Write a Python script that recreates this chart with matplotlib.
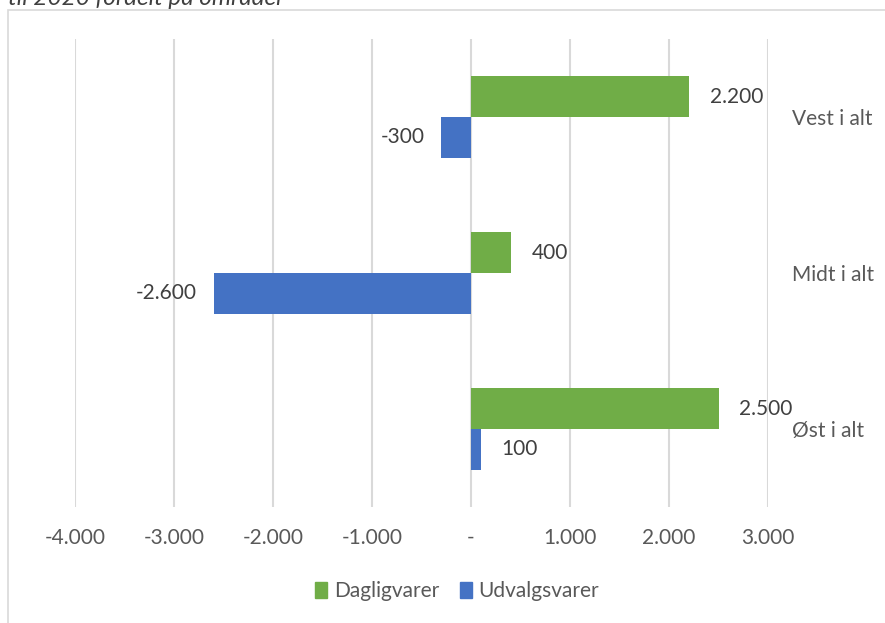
import matplotlib.pyplot as plt
from matplotlib.patches import Rectangle, Patch
import numpy as np

plt.rcParams['font.family'] = ['Lato', 'DejaVu Sans']

omraader = ["Øst i alt", "Midt i alt", "Vest i alt"]
dagligvarer = [2500, 400, 2200]
udvalgsvarer = [100, -2600, -300]
xticks = [-4000, -3000, -2000, -1000, 0, 1000, 2000, 3000]
xticklabels = ["-4.000", "-3.000", "-2.000", "-1.000", "-", "1.000", "2.000", "3.000"]

groen = "#70AD47"
blaa = "#4472C4"
tekst = "#595959"

W, H = 885, 623
fig = plt.figure(figsize=(W / 100, H / 100), dpi=100)

# ramme om diagrammet (kun venstre og top er synlige)
fig.patches.append(Rectangle((7.5 / W, -0.1), 1.2, 1 + 0.1 - 10 / H, transform=fig.transFigure,
                             fill=False, edgecolor="#D9D9D9", linewidth=1.2))

fig.text(8 / W, 1 - 5 / H, "til 2020 fordelt på områder", fontsize=17.5, style="italic",
         color="#404040", va="baseline", ha="left")

ax = fig.add_axes([75 / W, 1 - 507 / H, (768 - 75) / W, (507 - 39) / H])

y = np.arange(len(omraader))
h = 0.26
ax.barh(y + h / 2, dagligvarer, height=h, color=groen, label="Dagligvarer", zorder=3)
ax.barh(y - h / 2, udvalgsvarer, height=h, color=blaa, label="Udvalgsvarer", zorder=3)

def fmt(v):
    return f"{v:,}".replace(",", ".")

def etiket(v, yi):
    ax.annotate(fmt(v), (v, yi), xytext=(15 if v >= 0 else -12, 0), textcoords="offset points",
                ha="left" if v >= 0 else "right", va="center", fontsize=15, color="#404040")

for yi, v in zip(y + h / 2, dagligvarer):
    etiket(v, yi)
for yi, v in zip(y - h / 2, udvalgsvarer):
    etiket(v, yi)

ax.set_xlim(-4000, 3000)
ax.set_ylim(-0.5, 2.5)
ax.set_xticks(xticks)
ax.set_xticklabels(xticklabels)
ax.grid(axis="x", color="#D9D9D9", linewidth=1.5, zorder=0)
ax.set_axisbelow(True)
for s in ax.spines.values():
    s.set_visible(False)

ax.set_yticks(y)
ax.set_yticklabels(omraader)
ax.yaxis.tick_right()
ax.tick_params(axis="y", length=0, pad=17, labelsize=15, labelcolor=tekst)
ax.tick_params(axis="x", length=0, pad=15, labelsize=15, labelcolor=tekst)

handles = [Patch(color=groen), Patch(color=blaa)]
fig.legend(handles, ["Dagligvarer", "Udvalgsvarer"], loc="center", bbox_to_anchor=(457 / W, 1 - 591 / H),
           ncol=2, frameon=False, fontsize=15, labelcolor=tekst, handlelength=0.6, handleheight=0.8,
           handletextpad=0.3, columnspacing=1.0)

fig.savefig("out.png", dpi=100)
